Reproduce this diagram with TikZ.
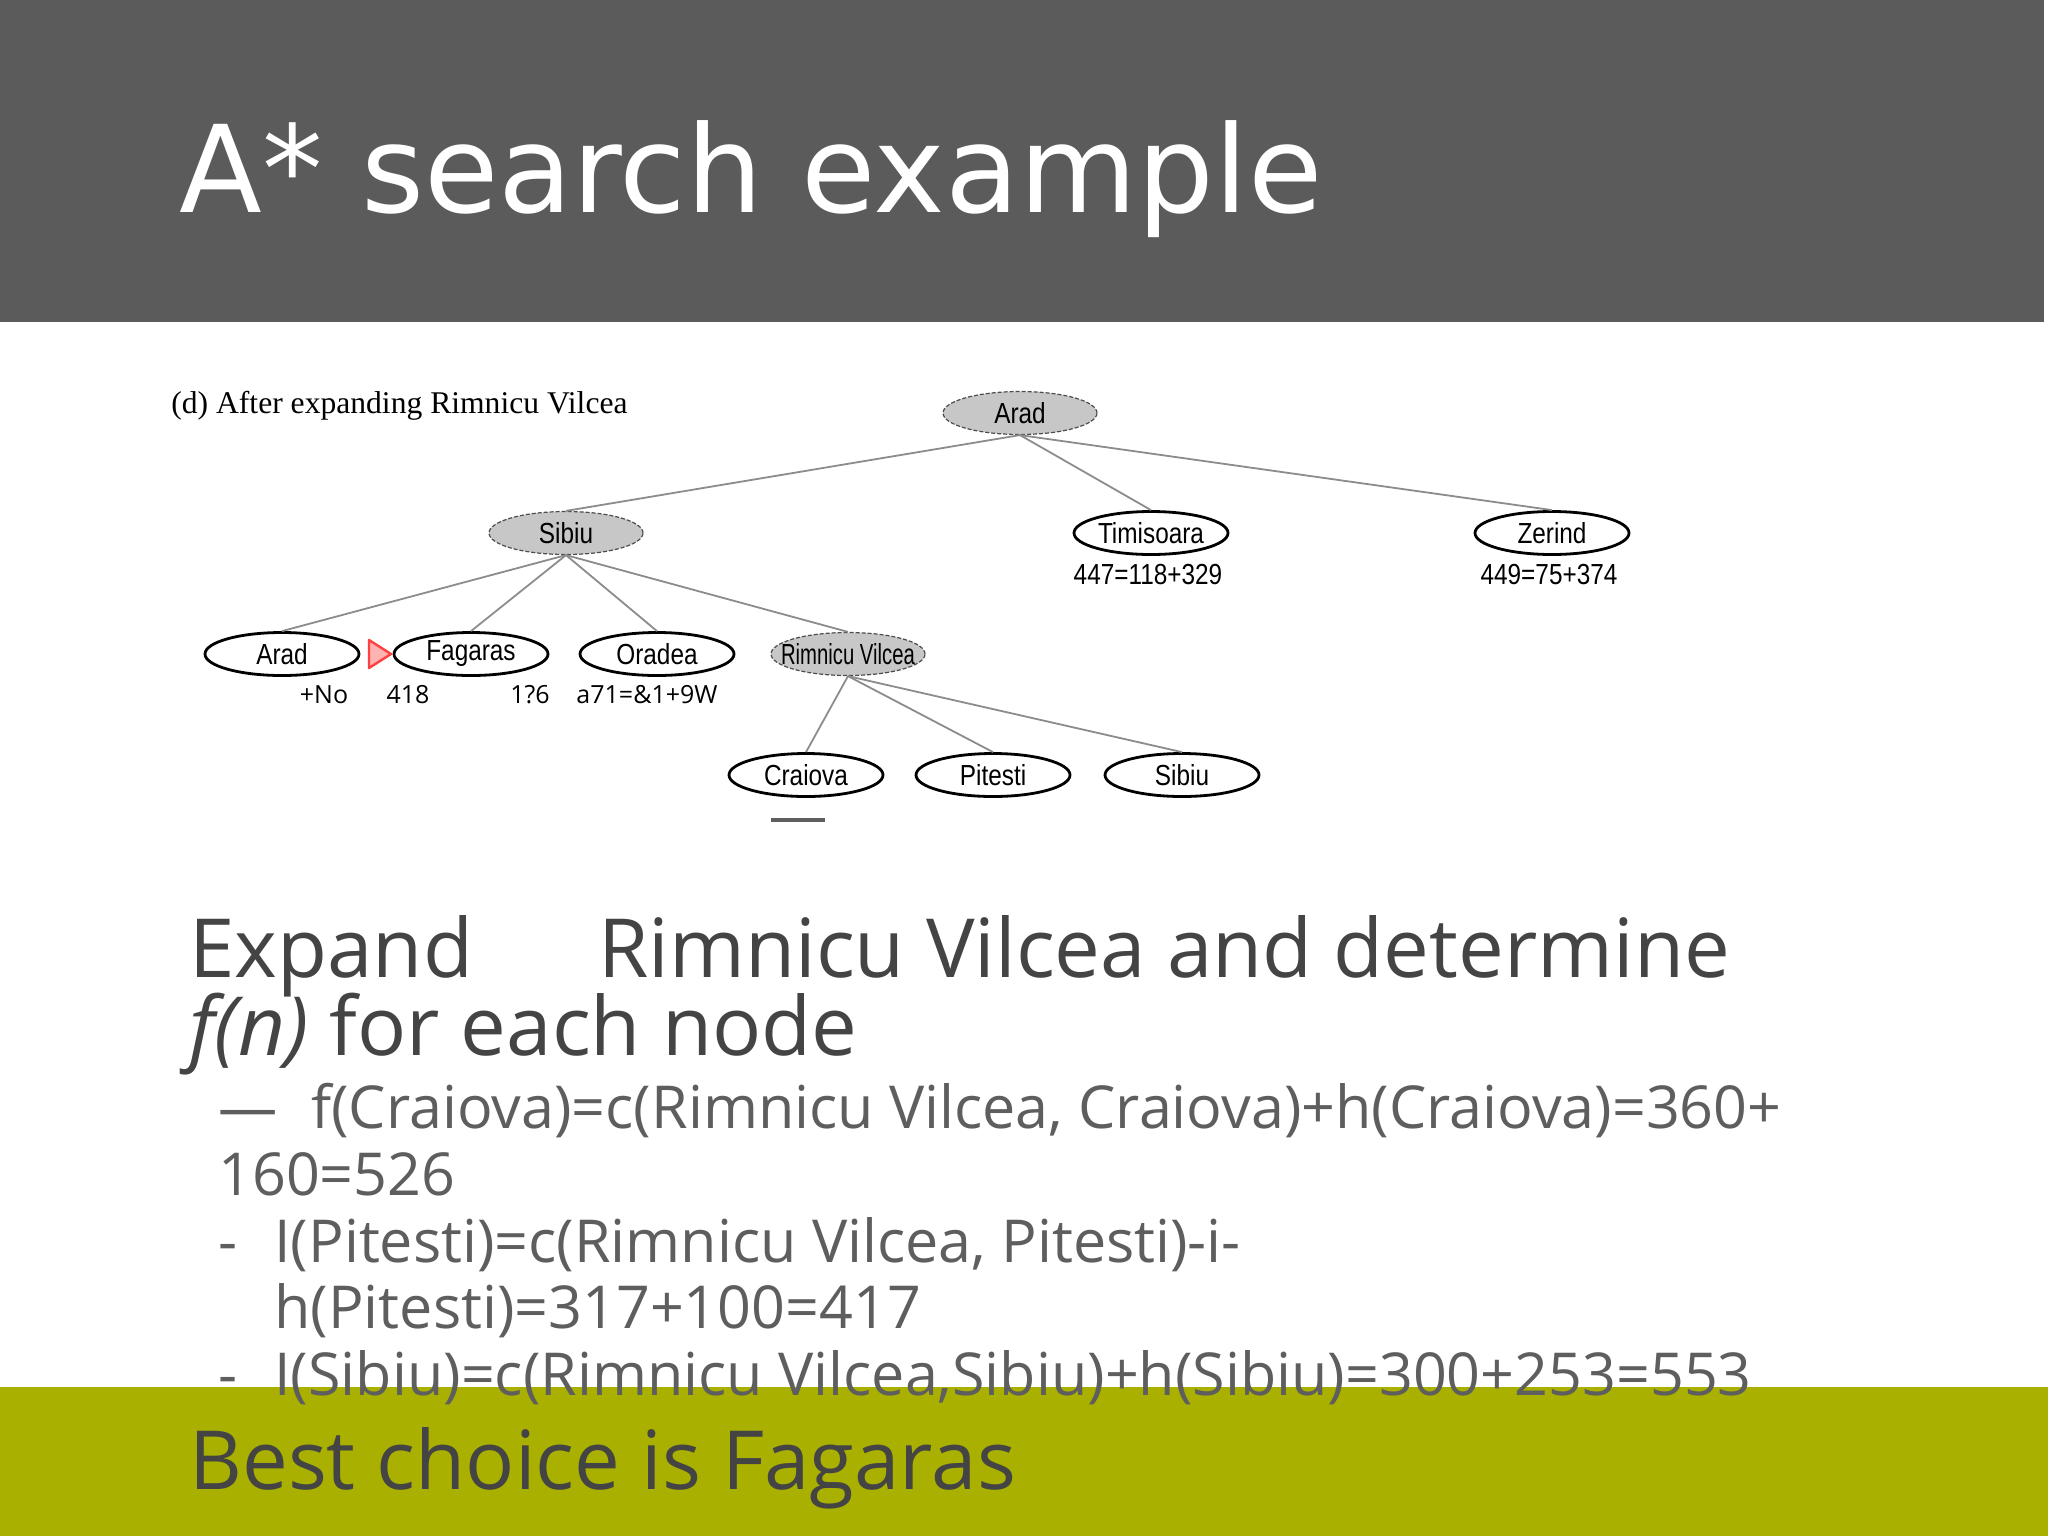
\documentclass[tikz,border=0pt]{standalone}
\usepackage{fontspec}
\usetikzlibrary{shapes.geometric}
\setmainfont{Open Sans}
\newfontfamily\titlefont{DejaVu Sans}
\newfontfamily\capfont{Liberation Serif}
\newfontfamily\treefont{Liberation Sans}[FakeStretch=0.84]
\newfontfamily\narrowfont{Liberation Sans}[FakeStretch=0.7]
\definecolor{barGray}{HTML}{5B5B5B}
\definecolor{bandGreen}{HTML}{A9B000}
\definecolor{textGray}{HTML}{444444}
\definecolor{subGray}{HTML}{5E5E5E}
\tikzset{
 open/.style={ellipse,draw=black,line width=1.4pt,fill=white,minimum width=77pt,minimum height=21.5pt,inner sep=0pt,font=\treefont\fontsize{14.5}{14.5}\selectfont},
 closed/.style={open,draw=black!70,dash pattern=on 2pt off 1pt,line width=0.6pt,fill=black!22},
 edge/.style={draw=black!45,line width=0.9pt},
 txt/.style={anchor=base west,inner sep=0pt},
 body/.style={txt,text=textGray,font=\fontsize{40.8}{40.8}\selectfont},
 sub/.style={txt,text=subGray,font=\fontsize{29.6}{29.6}\selectfont},
}
\begin{document}
\begin{tikzpicture}[x=0.5pt,y=-0.5pt]
\useasboundingbox (0,0) rectangle (2048,1536);
\fill[white] (0,0) rectangle (2048,1536);
\fill[barGray] (0,0) rectangle (2044,322);
\node[txt,text=white,font=\titlefont\fontsize{60.5}{60.5}\selectfont] (title) at (179,212) {A* search example};

% search tree
\node[txt,font=\capfont\fontsize{15.8}{15.8}\selectfont] (caption) at (171,413) {(d) After expanding Rimnicu Vilcea};
\node[closed] (arad) at (1020,413) {Arad};
\node[closed] (sibiu) at (566,533) {Sibiu};
\node[open] (timisoara) at (1151,533) {Timisoara};
\node[open] (zerind) at (1552,533) {Zerind};
\node[open] (aradB) at (282,654) {Arad};
\node[open] (fagaras) at (471,654) {Fagaras};
\node[open] (oradea) at (657,654) {Oradea};
\node[closed,inner xsep=-6.5pt,font=\narrowfont\fontsize{14.5}{14.5}\selectfont] (rimnicu) at (848,654) {Rimnicu Vilcea};
\node[open] (craiova) at (806,775) {Craiova};
\node[open] (pitesti) at (993,775) {Pitesti};
\node[open] (sibiuB) at (1182,775) {Sibiu};
\draw[edge] (arad.south) -- (sibiu.north);
\draw[edge] (arad.south) -- (timisoara.north);
\draw[edge] (arad.south) -- (zerind.north);
\foreach \c in {aradB,fagaras,oradea,rimnicu}
 \draw[edge] (sibiu.south) -- (\c.north);
\foreach \c in {craiova,pitesti,sibiuB}
 \draw[edge] (rimnicu.south) -- (\c.north);
\node[anchor=base,inner sep=0pt,font=\treefont\fontsize{14.5}{14.5}\selectfont] (fTim) at (1148,584) {447=118+329};
\node[anchor=base,inner sep=0pt,font=\treefont\fontsize{14.5}{14.5}\selectfont] (fZer) at (1549,584) {449=75+374};
\foreach \x/\t/\n in {324/+No/fA,408/418/fF,530/1?6/fO,647/a71=\&1+9W/fR}
 \node[anchor=base,inner sep=0pt,font=\fontsize{12.5}{12.5}\selectfont] (\n) at (\x,703) {\t};
\filldraw[draw=red!75,fill=red!30,line width=1.2pt,line join=round] (369,640) -- (369,668) -- (391,654) -- cycle;
\draw[subGray,line width=2pt] (771,820) -- (825,820);

% text
\fill[bandGreen] (0,1387) rectangle (2048,1536);
\node[body] (expand) at (189,977) {Expand};
\node[body] (expandB) at (598,977) {Rimnicu Vilcea and determine};
\node[body] (fn) at (189,1055) {\textit{f(n)} for each node};
\node[sub] (d1) at (218,1128) {—};
\node[sub] (l1) at (311,1128) {f(Craiova)=c(Rimnicu Vilcea, Craiova)+h(Craiova)=360+};
\node[sub] (l1b) at (218,1195) {160=526};
\node[sub] (d2) at (218,1262) {-};
\node[sub] (l2) at (274,1262) {I(Pitesti)=c(Rimnicu Vilcea, Pitesti)-i-};
\node[sub] (l2b) at (274,1328) {h(Pitesti)=317+100=417};
\node[sub] (d3) at (218,1395) {-};
\node[sub] (l3) at (274,1395) {I(Sibiu)=c(Rimnicu Vilcea,Sibiu)+h(Sibiu)=300+253=553};
\node[body] (best) at (189,1489) {Best choice is Fagaras};
\end{tikzpicture}
\end{document}
